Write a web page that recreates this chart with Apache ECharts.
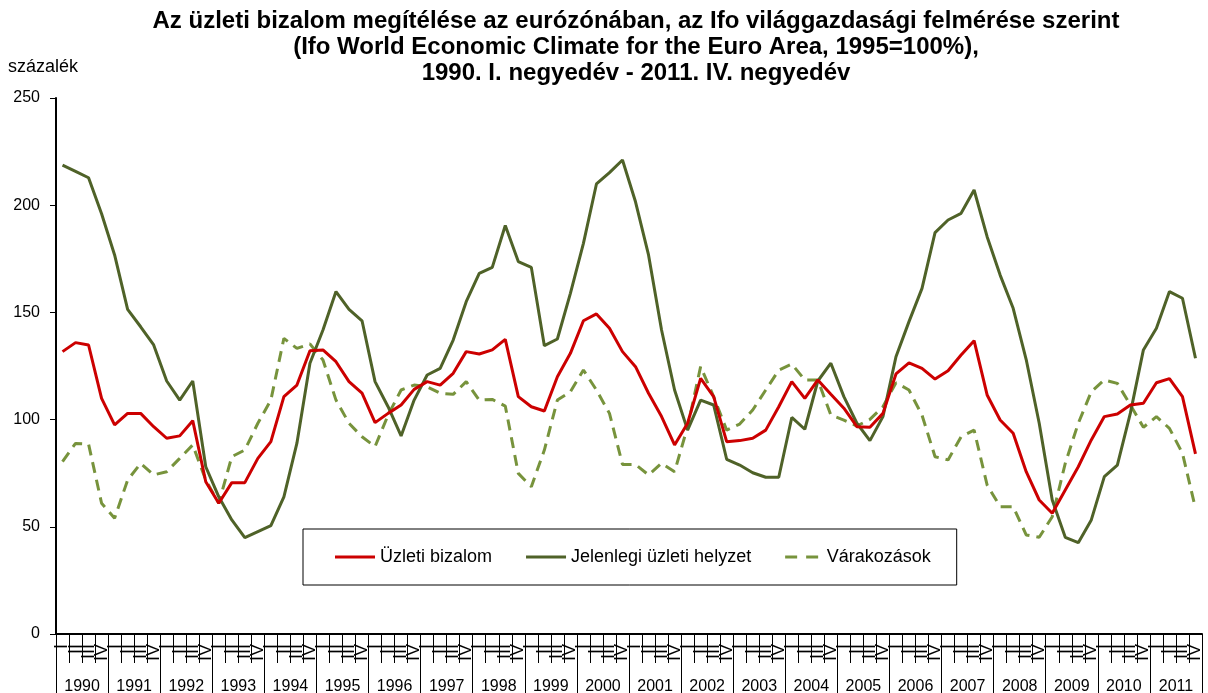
<!DOCTYPE html>
<html>
<head>
<meta charset="utf-8">
<script src="https://cdn.jsdelivr.net/npm/echarts@6/dist/echarts.min.js"></script>
<style>
  html, body { margin: 0; padding: 0; background: #fff; }
  #chart { width: 1208px; height: 693px; }
</style>
</head>
<body>
<div id="chart"></div>
<script>
// évek és negyedévek
var years = ['1990', '1991', '1992', '1993', '1994', '1995', '1996', '1997', '1998', '1999', '2000',
             '2001', '2002', '2003', '2004', '2005', '2006', '2007', '2008', '2009', '2010', '2011'];
var quarterNames = ['I', 'II', 'III', 'IV'];
var quarters = [];
years.forEach(function () { quarterNames.forEach(function (q) { quarters.push(q); }); });

var yTicks = [0, 50, 100, 150, 200, 250];

// Üzleti bizalom
var bizalom = [
  131.7, 135.9, 134.8, 109.9,  97.5, 102.9, 102.9, 96.7,  91.3, 92.4, 99.5, 71,
  61, 70.6, 70.6, 81.9,  89.7, 110.7, 116.1, 132.1,  132.5, 127, 117.7, 112.3,
  98.6, 102.9, 106.8, 114.1,  117.7, 116.1, 121.6, 131.7,  130.6, 132.5, 137.4, 110.7,
  106, 104, 120, 130.9,  146.1, 149.3, 142.6, 131.7,  124.7, 112.3, 101.4, 88.2,
  98.3, 119.2, 110.7, 89.7,  90.2, 91.3, 95.1, 106,  117.7, 109.9, 118.5, 111.8,
  105.3, 96.7, 96.4, 102.9,  121.3, 126.5, 123.9, 118.9,  122.8, 130.1, 136.8, 111.5,
  99.8, 93.6, 75.7, 62.5,  56.3, 67.2, 78, 90.5,  101.4, 102.6, 106.8, 107.6,
  117.2, 119.1, 110.7, 84
];

// Jelenlegi üzleti helyzet
var helyzet = [
  218.7, 215.8, 212.8, 196,  176.8, 151.4, 143.3, 134.8,  118, 109.1, 118, 78,
  64, 53.2, 44.9, 47.7,  50.5, 64, 89, 126.3,  141.8, 159.7, 151.4, 146.1,
  117.7, 106, 92.4, 109.1,  120.8, 123.9, 137.1, 155,  168.2, 171, 190.5, 173.7,
  171, 134.5, 137.6, 158.9,  182.2, 209.9, 215.2, 221.1,  201.6, 176.8, 141.8, 113.8,
  95.1, 109.1, 106.8, 81.5,  78.8, 75.2, 73.1, 73.1,  101, 95.5, 118, 126.3,
  110.7, 98.3, 90.2, 101.4,  129.3, 145.7, 161.2, 187.2,  193.1, 196.2, 207.1, 185.3,
  167.4, 151.9, 128, 98.3,  62.5, 45.1, 42.6, 53.2,  73.4, 78.8, 103, 132.5,
  142.6, 159.7, 156.6, 128.6
];

// Várakozások
var varakozasok = [
  80.4, 88.9, 88.6, 61,  54, 71.8, 79.6, 74.2,  75.7, 81.9, 88.2, 71.8,
  61, 82.7, 85.8, 98.3,  109.1, 137.9, 133.2, 135.3,  127.8, 109.1, 98.3, 92,
  87.4, 102.1, 113.8, 116.1,  115.3, 112.3, 111.8, 117.7,  109.1, 109.4, 106.3, 74.9,
  68.7, 85.8, 109.1, 113,  123.1, 113.8, 102.9, 79.1,  79.1, 74.2, 79.6, 75.7,
  96.7, 124.7, 110.7, 95.1,  97.9, 104.5, 113.8, 123.1,  125.9, 118.5, 118.5, 102.1,
  99.8, 97, 100.1, 106,  117.2, 113.8, 102.1, 82.7,  81.2, 92, 95.1, 69.5,
  59.4, 59.4, 46.2, 45.1,  54.7, 79.6, 98.3, 113,  118.5, 116.9, 106.8, 96.4,
  101.4, 95.9, 84.3, 58.6
];

var FONT = '"Liberation Sans", Arial, sans-serif';

var myChart = echarts.init(document.getElementById('chart'));
myChart.setOption({
    animation: false,
    textStyle: { fontFamily: FONT, color: '#000' },
    title: {
        text: 'Az üzleti bizalom megítélése az eurózónában, az Ifo világgazdasági felmérése szerint\n' +
              '(Ifo World Economic Climate for the Euro Area, 1995=100%),\n' +
              '1990. I. negyedév - 2011. IV. negyedév',
        left: 631,
        top: 3,
        textAlign: 'center',
        textStyle: { fontFamily: FONT, fontSize: 24, fontWeight: 'bold', color: '#000', lineHeight: 26 }
    },
    graphic: [{
        type: 'text',
        left: 8,
        top: 58,
        style: { text: 'százalék', font: '18px ' + FONT, fill: '#000' }
    }],
    legend: {
        left: 303,
        top: 529,
        padding: [19, 26, 19, 32],
        itemGap: 34,
        itemWidth: 40,
        itemHeight: 3,
        borderColor: '#000',
        borderWidth: 1,
        textStyle: { fontFamily: FONT, fontSize: 18, color: '#000' },
        data: [
            { name: 'Üzleti bizalom', icon: 'rect' },
            { name: 'Jelenlegi üzleti helyzet', icon: 'rect' },
            { name: 'Várakozások', icon: 'path://M3,0h12v3h-12z M24,0h12v3h-12z' }
        ]
    },
    grid: { left: 56, right: 6, top: 98, bottom: 59, containLabel: false, outerBoundsMode: 'none' },
    xAxis: [
        {
            type: 'category',
            data: quarters,
            position: 'bottom',
            axisLine: { lineStyle: { color: '#000', width: 2 } },
            axisTick: { show: true, interval: 0, length: 29, lineStyle: { color: '#000', width: 1 } },
            axisLabel: { interval: 0, rotate: 90, fontSize: 18, margin: 10, color: '#000', fontFamily: FONT }
        },
        {
            type: 'category',
            data: years,
            position: 'bottom',
            axisLine: { show: false },
            axisTick: { show: true, interval: 0, length: 62, lineStyle: { color: '#000', width: 1 } },
            axisLabel: { interval: 0, fontSize: 16, margin: 45, color: '#000', fontFamily: FONT }
        }
    ],
    yAxis: {
        type: 'value',
        min: yTicks[0],
        max: yTicks[yTicks.length - 1],
        interval: 50,
        splitLine: { show: false },
        axisLine: { show: true, lineStyle: { color: '#000', width: 2 } },
        axisTick: { show: true, length: 6, lineStyle: { color: '#000' } },
        axisLabel: { fontSize: 16, margin: 16, color: '#000', fontFamily: FONT }
    },
    series: [
        {
            name: 'Üzleti bizalom',
            type: 'line',
            data: bizalom,
            symbol: 'none',
            lineStyle: { color: '#CC0000', width: 3 },
            itemStyle: { color: '#CC0000' },
            z: 4
        },
        {
            name: 'Jelenlegi üzleti helyzet',
            type: 'line',
            data: helyzet,
            symbol: 'none',
            lineStyle: { color: '#4F6228', width: 3 },
            itemStyle: { color: '#4F6228' },
            z: 3
        },
        {
            name: 'Várakozások',
            type: 'line',
            data: varakozasok,
            symbol: 'none',
            lineStyle: { color: '#77933C', width: 3, type: [11, 7] },
            itemStyle: { color: '#77933C' },
            z: 2
        }
    ]
});
</script>
</body>
</html>
